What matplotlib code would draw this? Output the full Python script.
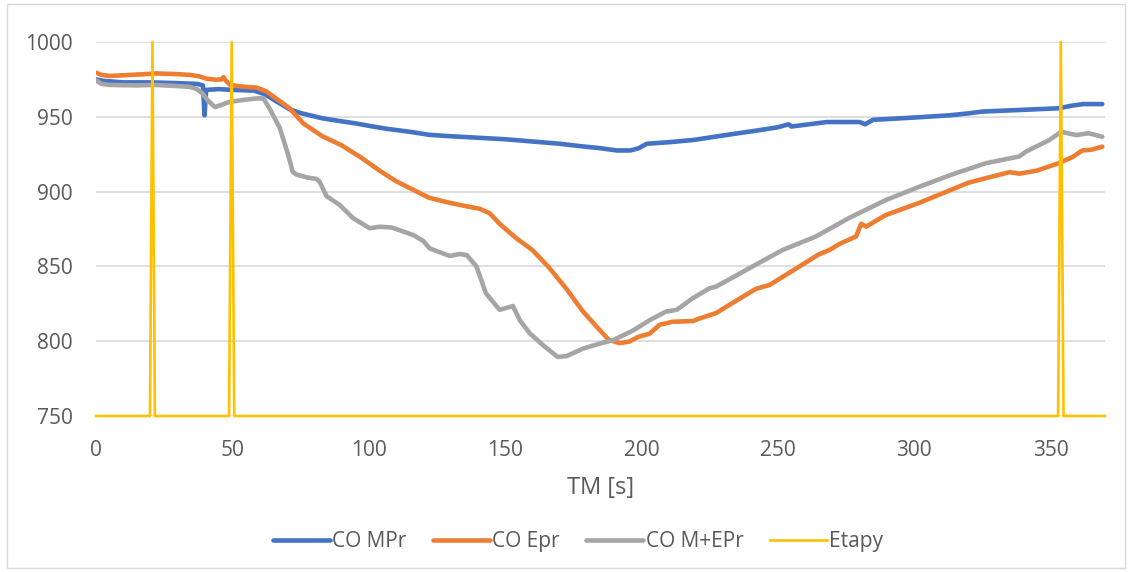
import matplotlib
matplotlib.use("Agg")
import matplotlib.pyplot as plt
from matplotlib.patches import Rectangle

# ---- data ----
t_mpr = [0, 3, 10, 20, 30, 37, 39.2, 39.8, 40.4, 45, 50, 58, 62, 66, 71, 75, 83, 90, 95.5,
         100, 106.5, 115, 122, 130, 140, 150, 160, 170, 177, 185, 191, 196, 199, 202, 210,
         219, 231, 243, 250, 254, 255, 268, 280, 282, 285, 300, 313, 320, 325, 338, 353,
         358, 362, 369]
v_mpr = [975, 974, 973, 973, 972.5, 972, 971, 951, 968, 968.5, 968, 967.5, 965, 960.5, 955,
         952.5, 949, 947, 945.5, 944, 942, 940, 938, 937, 936, 935, 933.5, 932, 930.5, 929,
         927.5, 927.5, 929, 932, 933, 934.5, 937.8, 941, 943, 945, 943.5, 946.5, 946.5, 945,
         948, 949.5, 951, 952.3, 953.5, 954.5, 955.7, 957.5, 958.5, 958.5]

t_epr = [0, 2, 5, 12.5, 18, 22, 30, 34.4, 38, 40.5, 44, 46, 46.8, 47.5, 49, 51.5, 55, 59,
         62.5, 66, 71, 76, 83, 90, 97, 104, 110, 116, 122, 128.5, 135, 140.7, 144.4, 148,
         154, 160, 166, 172.5, 178.5, 184.7, 188, 192, 195.7, 199, 203, 206.7, 211.5, 219,
         221, 227.4, 232, 242, 247, 258, 265, 269, 272.6, 278.7, 280.6, 282.4, 289.7, 301.9,
         314, 320, 326.4, 335, 338.6, 345, 353, 358, 361.7, 365, 369]
v_epr = [979.5, 978, 977.3, 978, 978.5, 979, 978.5, 978, 977, 975.5, 974.8, 975, 976.5, 974.5,
         971.5, 970.6, 970, 969.5, 967, 962.3, 955.7, 945.6, 937, 931, 923, 914, 907, 901.5,
         896, 893, 890.5, 888.5, 885.5, 878.5, 869, 861, 849.5, 835, 820, 807.5, 801, 798.7,
         799.8, 803, 805, 811, 813, 813.5, 815, 818.8, 824, 835, 837.6, 850, 858, 861, 865,
         870, 878.5, 876.6, 884.4, 892.5, 901.5, 906, 909, 913, 912, 914, 919, 923, 927.5,
         928, 930]

t_mepr = [0, 2, 5, 15, 22, 30, 34.4, 37, 39, 41, 43.6, 46, 49, 55, 59, 61.4, 63.8, 67.4, 70.4,
          72.2, 73.5, 77.2, 80.8, 82, 84.5, 89.4, 94.3, 100.4, 104, 108.5, 116.3, 120, 122.4,
          129.7, 133.4, 136, 139.5, 143, 148, 152.9, 155.4, 159, 163.8, 169.3, 172.5, 178.5,
          184.7, 189.5, 196.8, 203, 209, 213, 218.8, 225, 227.4, 239.6, 251.8, 264, 276.3,
          289.7, 302, 314, 326.4, 338.6, 341, 349.6, 353.9, 359.4, 364, 369]
v_mepr = [974.5, 972, 971.3, 971, 971.3, 970.5, 970, 968.5, 965.7, 961, 956.5, 958, 960,
          961.5, 962.3, 962.3, 955, 942.5, 925, 913, 911.5, 909.5, 908.5, 906.6, 897, 891,
          882.2, 875.5, 876.5, 876, 871, 867, 862, 857, 858.3, 857.5, 850, 832, 821, 823.5,
          814, 805.4, 797.5, 789.5, 790, 795, 798.4, 800.6, 807, 814, 819.8, 821, 828.7,
          835.4, 836.5, 848.8, 861, 870, 882.5, 894.4, 903.3, 911.5, 919, 923.5, 926.7,
          934.5, 940, 937.8, 939, 936.7]

t_etapy = [0, 19.8, 20.7, 21.6, 48.8, 49.75, 50.7, 352.8, 353.8, 354.8, 370]
v_etapy = [750, 750, 1000, 750, 750, 1000, 750, 750, 1000, 750, 750]

series_names = ["CO MPr", "CO Epr", "CO M+EPr", "Etapy"]
x_ticks = [0, 50, 100, 150, 200, 250, 300, 350]
y_ticks = [750, 800, 850, 900, 950, 1000]
x_label = "TM [s]"

# ---- figure ----
W, H = 1132, 572
fig = plt.figure(figsize=(W / 100, H / 100), dpi=100)
plt.rcParams['font.family'] = ['Open Sans', 'DejaVu Sans']
txt = "#595959"

ax = fig.add_axes([96 / W, 1 - 416 / H, (1105 - 96) / W, (416 - 42) / H])
ax.plot(t_mpr, v_mpr, color="#4472C4", lw=3.3, solid_capstyle="round", solid_joinstyle="round", label=series_names[0], zorder=3)
ax.plot(t_epr, v_epr, color="#ED7D31", lw=3.3, solid_capstyle="round", solid_joinstyle="round", label=series_names[1], zorder=4)
ax.plot(t_mepr, v_mepr, color="#A5A5A5", lw=3.3, solid_capstyle="round", solid_joinstyle="round", label=series_names[2], zorder=5)
ax.plot(t_etapy, v_etapy, color="#FFC000", lw=1.9, solid_joinstyle="round", label=series_names[3],
        zorder=6, clip_on=False)

ax.set_xlim(0, 370)
ax.set_ylim(750, 1000)
ax.set_xticks(x_ticks)
ax.set_yticks(y_ticks)
ax.grid(axis="y", color="#D9D9D9", lw=1.2, zorder=0)
ax.set_axisbelow(True)
for s in ax.spines.values():
    s.set_visible(False)
ax.tick_params(axis="both", length=0, labelsize=15, labelcolor=txt)
ax.tick_params(axis="x", pad=17)
ax.tick_params(axis="y", pad=17)

fig.text(600.5 / W, 1 - 488 / H, x_label, ha="center", va="center", fontsize=17, color=txt)

handles, labels = ax.get_legend_handles_labels()
leg = fig.legend(handles, labels, loc="center", bbox_to_anchor=(578 / W, 1 - 541.5 / H), ncol=4,
                 frameon=False, fontsize=15, handlelength=2.75, handletextpad=0.12,
                 columnspacing=1.25)
for tx in leg.get_texts():
    tx.set_color(txt)

fig.patches.append(Rectangle((7 / W, 4 / H), (1125 - 7) / W, (568 - 4) / H, transform=fig.transFigure,
                             fill=False, edgecolor="#D9D9D9", lw=1.0))

fig.savefig("out.png", dpi=100)
